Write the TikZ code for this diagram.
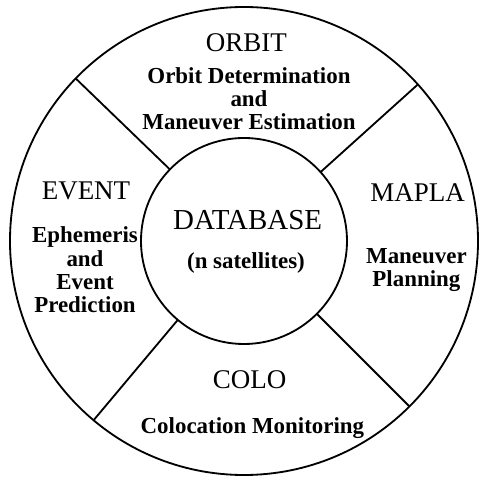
\documentclass[tikz,border=0pt]{standalone}
\usepackage{fontspec}
\setmainfont{Liberation Serif}
\tikzset{
  ring/.style={circle, draw, line width=1.3pt, inner sep=0pt, outer sep=0pt},
  divider/.style={line width=1.3pt},
  title/.style={font=\fontsize{19.2}{22}\selectfont, anchor=base, inner sep=0pt},
  task/.style={font=\fontsize{16.3}{16.7}\selectfont\bfseries, align=center, anchor=base, inner sep=0pt},
}
\begin{document}
\begin{tikzpicture}
    \useasboundingbox (-6.1,-5.9) rectangle (5.875,6.025);
    \node[ring, minimum size=11.7cm] (wheel) at (0,0) {};
    \node[ring, minimum size=5.15cm] (hub) at (0,0) {};
    \draw[divider] (hub.42) -- (wheel.42);
    \draw[divider] (hub.136) -- (wheel.136);
    \draw[divider] (hub.230) -- (wheel.230);
    \draw[divider] (hub.315) -- (wheel.315);
    % centre
    \node[title, font=\fontsize{20.6}{22}\selectfont] (database) at (0.09,0.275) {DATABASE};
    \node[task] (sats) at (0.05,-0.7) {(n satellites)};
    % top (task nodes sit on their last line)
    \node[title] (orbit) at (0.06,4.725) {ORBIT};
    \node[task] (orbitdet) at (0.125,2.775) {Orbit Determination\\and\\Maneuver Estimation};
    % left
    \node[title] (event) at (-3.95,1.025) {EVENT};
    \node[task] (ephem) at (-3.975,-1.8) {Ephemeris\\and\\Event\\Prediction};
    % right
    \node[title] (mapla) at (4.34,0.975) {MAPLA};
    \node[task] (manplan) at (4.31,-1.15) {Maneuver\\Planning};
    % bottom
    \node[title] (colo) at (0.14,-3.7) {COLO};
    \node[task] (colmon) at (0.21,-4.825) {Colocation Monitoring};
\end{tikzpicture}
\end{document}
